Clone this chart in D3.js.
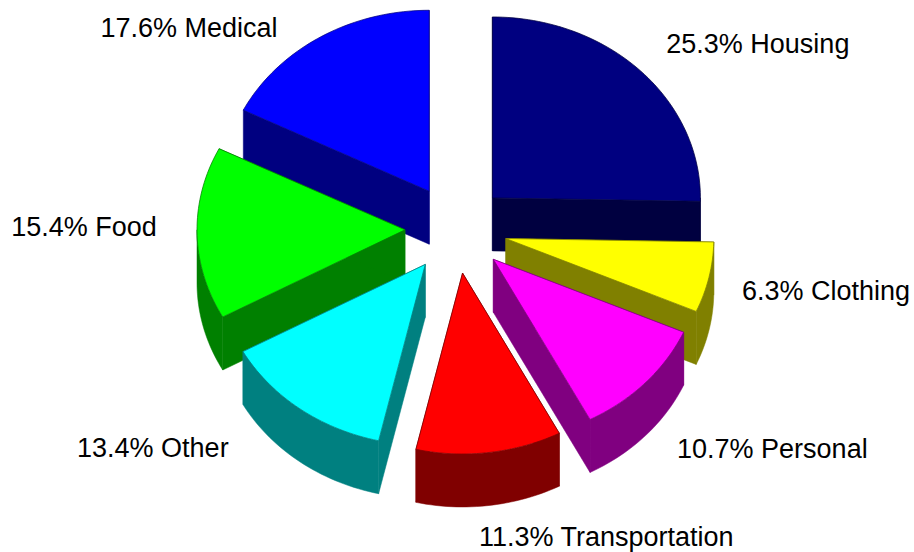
<!DOCTYPE html>
<html>
<head>
<meta charset="utf-8">
<script src="https://cdnjs.cloudflare.com/ajax/libs/d3/7.8.5/d3.min.js"></script>
<style>
  html, body { margin: 0; padding: 0; background: #fff; }
  svg { display: block; }
</style>
</head>
<body>
<div id="canvas"></div>
<script>
// Data

let categories = ["Housing", "Clothing", "Personal", "Transportation", "Other", "Food", "Medical"];
let shares = [25.3, 6.3, 10.7, 11.3, 13.4, 15.4, 17.6];
let topColors = ["#000080", "#ffff00", "#ff00ff", "#ff0000", "#00ffff", "#00ff00", "#0000ff"];
let sideColors = ["#000040", "#808000", "#800080", "#800000", "#008080", "#008000", "#000080"];

// Setting dimensions

let width = 914;
let height = 552;
let cx = 456;
let cy = 229;
let rx = 208;     // pie radius across
let tilt = 0.87;  // squash of the pie in the vertical
let explode = 51;
let depth = 53;

// Label nudges from the outer edge of each slice, same order as categories
let labelNudge = [[117, -28], [117, 13], [127, 66], [117, 84], [-147, 39], [-113, -7], [-131, -10]];

let svg = d3.select("#canvas")
    .append("svg")
    .attr("width", width)
    .attr("height", height);

// Slices run clockwise from 12 o'clock
let pie = d3.pie().sort(null).value((d) => d.share);
let slices = pie(categories.map((c, i) => ({ name: c, share: shares[i], top: topColors[i], side: sideColors[i] })));

let line = d3.line();

// Angle to screen, flattened by tilt, around the slice apex
function rim(apex, a, down) {
    return [apex[0] + rx * Math.sin(a), apex[1] - rx * tilt * Math.cos(a) + (down || 0)];
}

function arcPoints(apex, a0, a1, down) {
    let n = Math.max(2, Math.ceil((a1 - a0) * 40));
    return d3.range(n + 1).map((i) => rim(apex, a0 + (a1 - a0) * i / n, down));
}

slices.forEach((s) => {
    let mid = (s.startAngle + s.endAngle) / 2;
    s.mid = mid;
    s.apex = [cx + explode * Math.sin(mid), cy - explode * tilt * Math.cos(mid)];
});

// Back slices first so that the front ones paint over them
let order = slices.slice().sort((a, b) => a.apex[1] - b.apex[1]);

order.forEach((s) => {
    let g = svg.append("g");
    let d = s.data;
    let below = (p) => [p[0], p[1] + depth];

    // The two cut faces
    [s.startAngle, s.endAngle].forEach((a) => {
        let p = rim(s.apex, a);
        g.append("path")
            .attr("d", line([s.apex, p, below(p), below(s.apex)]) + "Z")
            .attr("fill", d.side)
            .attr("stroke", d.side)
            .attr("stroke-width", 0.5);
    });

    // Outer wall, only where the rim faces the viewer
    let a0 = Math.max(s.startAngle, Math.PI / 2);
    let a1 = Math.min(s.endAngle, Math.PI * 3 / 2);
    if (a1 > a0) {
        let upper = arcPoints(s.apex, a0, a1);
        let lower = arcPoints(s.apex, a0, a1, depth).reverse();
        g.append("path")
            .attr("d", line(upper.concat(lower)) + "Z")
            .attr("fill", d.side)
            .attr("stroke", d.side)
            .attr("stroke-width", 0.5);
    }

    // Top face
    let outline = [s.apex].concat(arcPoints(s.apex, s.startAngle, s.endAngle));
    g.append("path")
        .attr("d", line(outline) + "Z")
        .attr("fill", d.top)
        .attr("stroke", d.side)
        .attr("stroke-width", 0.75)
        .attr("stroke-linejoin", "round");
});

// Labels

slices.forEach((s, i) => {
    let p = rim(s.apex, s.mid);
    svg.append("text")
        .attr("x", p[0] + labelNudge[i][0])
        .attr("y", p[1] + labelNudge[i][1])
        .attr("dy", "0.35em")
        .style("font-family", "'Liberation Sans', Arial, sans-serif")
        .style("font-size", "27px")
        .style("text-anchor", "middle")
        .style("fill", "#000")
        .text(d3.format(".1f")(s.data.share) + "% " + s.data.name);
});
</script>
</body>
</html>
